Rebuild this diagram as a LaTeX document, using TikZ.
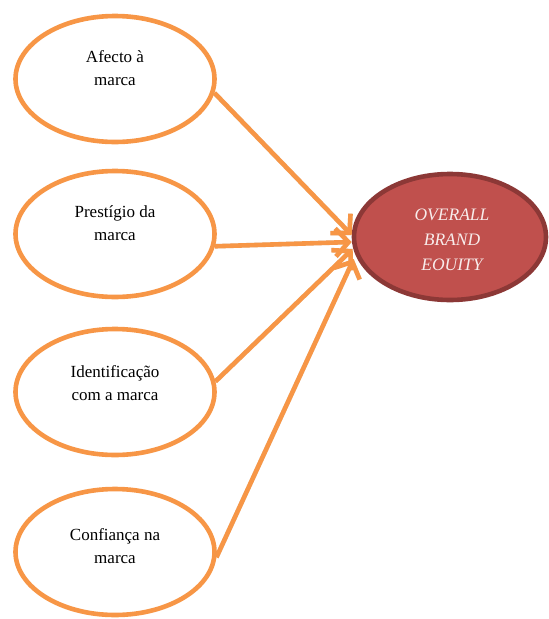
\documentclass[tikz,border=0pt]{standalone}
\usepackage{fontspec}
\setmainfont{Liberation Serif}
\usetikzlibrary{arrows.meta,shapes.geometric,calc}
\definecolor{accorange}{HTML}{F79646}
\definecolor{accred}{HTML}{C0504D}
\definecolor{accredline}{HTML}{8C3836}
\definecolor{paletext}{HTML}{F8ECEB}
\tikzset{
  factor/.style={ellipse, draw=accorange, line width=4.6pt, fill=white,
    minimum width=199pt, minimum height=126pt, inner sep=0pt},
  outcome/.style={ellipse, draw=accredline, line width=4.6pt, fill=accred,
    minimum width=192pt, minimum height=126pt, inner sep=0pt},
  factortext/.style={align=center, inner sep=0pt,
    font=\fontsize{17}{23}\selectfont},
  outcometext/.style={align=center, inner sep=0pt, text=paletext,
    font=\itshape\fontsize{17.5}{25}\selectfont},
  link/.style={draw=accorange, line width=4.6pt,
    -{Straight Barb[length=13pt,width=28pt,line width=4.6pt]}},
  linkshadow/.style={draw=black!40, opacity=0.3, line width=4.6pt,
    -{Straight Barb[length=13pt,width=28pt,line width=4.6pt]}},
}
\begin{document}
\begin{tikzpicture}[x=1pt,y=-1pt]
  \useasboundingbox (0,0) rectangle (549,619);

  % explanatory factors
  \node[factor] (e1) at (115,79)  {};
  \node[factor] (e2) at (115,234) {};
  \node[factor] (e3) at (115,392) {};
  \node[factor] (e4) at (115,552) {};

  % outcome
  \node[outcome] (oe) at (450,237) {};

  \node[factortext] (t1) at (115,68)  {Afecto à\\marca};
  \node[factortext] (t2) at (115,223) {Prestígio da\\marca};
  \node[factortext] (t3) at (115,383) {Identificação\\com a marca};
  \node[factortext] (t4) at (115,546) {Confiança na\\marca};
  \node[outcometext] (to) at (452,240) {OVERALL\\BRAND\\EOUITY};

  % anchor points of the connectors
  \coordinate (s1) at (e1.-8);
  \coordinate (s2) at (e2.-7);
  \coordinate (s3) at (e3.6);
  \coordinate (s4) at (e4.-3);
  \coordinate (h1) at ($(oe.west)+(0,-2)$);
  \coordinate (h2) at ($(oe.west)+(0,5)$);
  \coordinate (h3) at ($(oe.west)+(1,12)$);
  \coordinate (h4) at ($(oe.west)+(2,22)$);

  % soft shadows under the connectors
  \begin{scope}[shift={(2,3)}]
    \draw[linkshadow] (s1) -- (h1);
    \draw[linkshadow] (s2) -- (h2);
    \draw[linkshadow] (s3) -- (h3);
    \draw[linkshadow] (s4) -- (h4);
  \end{scope}

  % connectors
  \draw[link] (s1) -- (h1);
  \draw[link] (s2) -- (h2);
  \draw[link] (s3) -- (h3);
  \draw[link] (s4) -- (h4);
\end{tikzpicture}
\end{document}
